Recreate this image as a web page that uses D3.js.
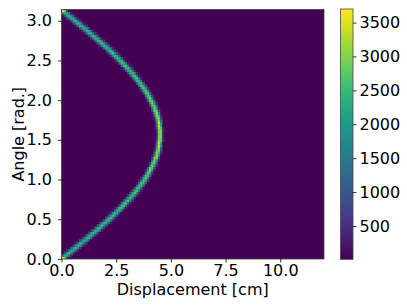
<!DOCTYPE html>
<html>
<head>
<meta charset="utf-8">
<script src="https://cdn.jsdelivr.net/npm/d3@7"></script>
<style>
  body { margin: 0; background: #fff; }
  text { font-family: "DejaVu Sans", sans-serif; }
</style>
</head>
<body>
<svg id="chart" width="407" height="305"></svg>
<script>
// histogram bins: 120 displacement bins (0.1 cm), 100 angle bins (pi/100)
var xBinCount = 120, yBinCount = 100;
var xMax = 12, yMax = Math.PI;

// centre of the bright band in each angle row (cm)
var bandCenter = [
  0.07, 0.21, 0.35, 0.49, 0.63, 0.77, 0.91, 1.05, 1.19, 1.32,
  1.46, 1.59, 1.72, 1.85, 1.98, 2.11, 2.23, 2.35, 2.47, 2.59,
  2.70, 2.81, 2.92, 3.03, 3.13, 3.23, 3.33, 3.42, 3.51, 3.60,
  3.68, 3.76, 3.84, 3.91, 3.98, 4.04, 4.10, 4.16, 4.21, 4.26,
  4.30, 4.34, 4.38, 4.41, 4.43, 4.46, 4.47, 4.49, 4.50, 4.50,
  4.50, 4.50, 4.49, 4.47, 4.46, 4.43, 4.41, 4.38, 4.34, 4.30,
  4.26, 4.21, 4.16, 4.10, 4.04, 3.98, 3.91, 3.84, 3.76, 3.68,
  3.60, 3.51, 3.42, 3.33, 3.23, 3.13, 3.03, 2.92, 2.81, 2.70,
  2.59, 2.47, 2.35, 2.23, 2.11, 1.98, 1.85, 1.72, 1.59, 1.46,
  1.32, 1.19, 1.05, 0.91, 0.77, 0.63, 0.49, 0.35, 0.21, 0.07
];
// peak count in each angle row
var bandPeak = [
  3700, 2500, 2500, 2500, 2500, 2500, 2500, 2500, 2500, 2500,
  2600, 2600, 2600, 2600, 2600, 2600, 2600, 2600, 2600, 2600,
  2700, 2700, 2700, 2700, 2700, 2700, 2700, 2700, 2700, 2700,
  2850, 2850, 2850, 2850, 2850, 3050, 3050, 3050, 3050, 3050,
  3250, 3250, 3250, 3250, 3250, 3500, 3500, 3500, 3500, 3500,
  3500, 3500, 3500, 3500, 3500, 3250, 3250, 3250, 3250, 3250,
  3050, 3050, 3050, 3050, 3050, 2850, 2850, 2850, 2850, 2850,
  2700, 2700, 2700, 2700, 2700, 2700, 2700, 2700, 2700, 2700,
  2600, 2600, 2600, 2600, 2600, 2600, 2600, 2600, 2600, 2600,
  2500, 2500, 2500, 2500, 2500, 2500, 2500, 2500, 2500, 3700
];
// fall-off of the band across neighbouring bins
var profileDist = [0, 0.6, 1.2, 1.8, 2.4];
var profileWeight = [1, 0.9, 0.55, 0.2, 0];
var backgroundCount = 8;

var xTicks = [0, 2.5, 5, 7.5, 10];
var yTicks = [0, 0.5, 1, 1.5, 2, 2.5, 3];
var cbTicks = [500, 1000, 1500, 2000, 2500, 3000, 3500];
var cMin = 8, cMax = 3700;

var svg = d3.select("#chart");

var x = d3.scaleLinear().domain([0, xMax]).range([61.5, 324]);
var y = d3.scaleLinear().domain([0, yMax]).range([259, 9.5]);
var color = d3.scaleSequential(d3.interpolateViridis).domain([cMin, cMax]);
var profile = d3.scaleLinear().domain(profileDist).range(profileWeight).clamp(true);

var xBin = xMax / xBinCount, yBin = yMax / yBinCount;

// build the non-empty cells
var cells = [];
bandCenter.forEach(function(c, row) {
  var prev = bandCenter[Math.max(row - 1, 0)], next = bandCenter[Math.min(row + 1, yBinCount - 1)];
  var slope = Math.abs(next - prev) / 2 / xBin;
  var spread = 0.7 + 0.4 * slope;
  var cb = Math.floor(c / xBin);
  for (var b = cb - 4; b <= cb + 4; b++) {
    if (b < 0 || b >= xBinCount) continue;
    var d = Math.abs((b + 0.5) * xBin - c) / xBin / spread;
    var w = profile(d);
    if (w <= 0) continue;
    cells.push({col: b, row: row, v: Math.max(backgroundCount, bandPeak[row] * w)});
  }
});

svg.append("rect")
  .attr("x", x(0)).attr("y", y(yMax))
  .attr("width", x(xMax) - x(0)).attr("height", y(0) - y(yMax))
  .attr("fill", color(backgroundCount));

svg.append("g").selectAll("rect")
  .data(cells)
  .enter().append("rect")
  .attr("x", function(d) { return x(d.col * xBin); })
  .attr("y", function(d) { return y((d.row + 1) * yBin); })
  .attr("width", function(d) { return x((d.col + 1) * xBin) - x(d.col * xBin) + 0.3; })
  .attr("height", function(d) { return y(d.row * yBin) - y((d.row + 1) * yBin) + 0.3; })
  .attr("fill", function(d) { return color(d.v); });

// frame
svg.append("rect")
  .attr("x", x(0)).attr("y", y(yMax))
  .attr("width", x(xMax) - x(0)).attr("height", y(0) - y(yMax))
  .attr("fill", "none").attr("stroke", "#444").attr("stroke-width", 0.8);

var xAxis = svg.append("g")
  .attr("transform", "translate(0," + y(0) + ")")
  .call(d3.axisBottom(x).tickValues(xTicks).tickFormat(d3.format(".1f")).tickSize(3.5).tickPadding(2));
var yAxis = svg.append("g")
  .attr("transform", "translate(" + x(0) + ",0)")
  .call(d3.axisLeft(y).tickValues(yTicks).tickFormat(d3.format(".1f")).tickSize(3.5).tickPadding(6));

[xAxis, yAxis].forEach(function(a) {
  a.select(".domain").remove();
  a.selectAll("text").attr("font-size", "16px").attr("fill", "#000").style("font-family", "DejaVu Sans");
  a.selectAll("line").attr("stroke", "#000").attr("stroke-width", 0.8);
});

svg.append("text")
  .attr("x", (x(0) + x(xMax)) / 2).attr("y", 295)
  .attr("text-anchor", "middle").attr("font-size", "16px")
  .text("Displacement [cm]");

svg.append("text")
  .attr("transform", "translate(24," + (y(0) + y(yMax)) / 2 + ") rotate(-90)")
  .attr("text-anchor", "middle").attr("font-size", "16px")
  .text("Angle [rad.]");

// colorbar
var cbX = 340.5, cbW = 12.5;
var cb = d3.scaleLinear().domain([cMin, cMax]).range([259.3, 9]);
var defs = svg.append("defs");
var grad = defs.append("linearGradient").attr("id", "cbgrad")
  .attr("x1", "0").attr("y1", "1").attr("x2", "0").attr("y2", "0");
d3.range(0, 1.0001, 0.05).forEach(function(t) {
  grad.append("stop").attr("offset", t).attr("stop-color", d3.interpolateViridis(t));
});
svg.append("rect")
  .attr("x", cbX).attr("y", cb(cMax))
  .attr("width", cbW).attr("height", cb(cMin) - cb(cMax))
  .attr("fill", "url(#cbgrad)").attr("stroke", "#444").attr("stroke-width", 0.8);

var cAxis = svg.append("g")
  .attr("transform", "translate(" + (cbX + cbW) + ",0)")
  .call(d3.axisRight(cb).tickValues(cbTicks).tickFormat(d3.format("d")).tickSize(3.5).tickPadding(3));
cAxis.select(".domain").remove();
cAxis.selectAll("text").attr("font-size", "16px").attr("fill", "#000").style("font-family", "DejaVu Sans");
cAxis.selectAll("line").attr("stroke", "#000").attr("stroke-width", 0.8);
</script>
</body>
</html>
